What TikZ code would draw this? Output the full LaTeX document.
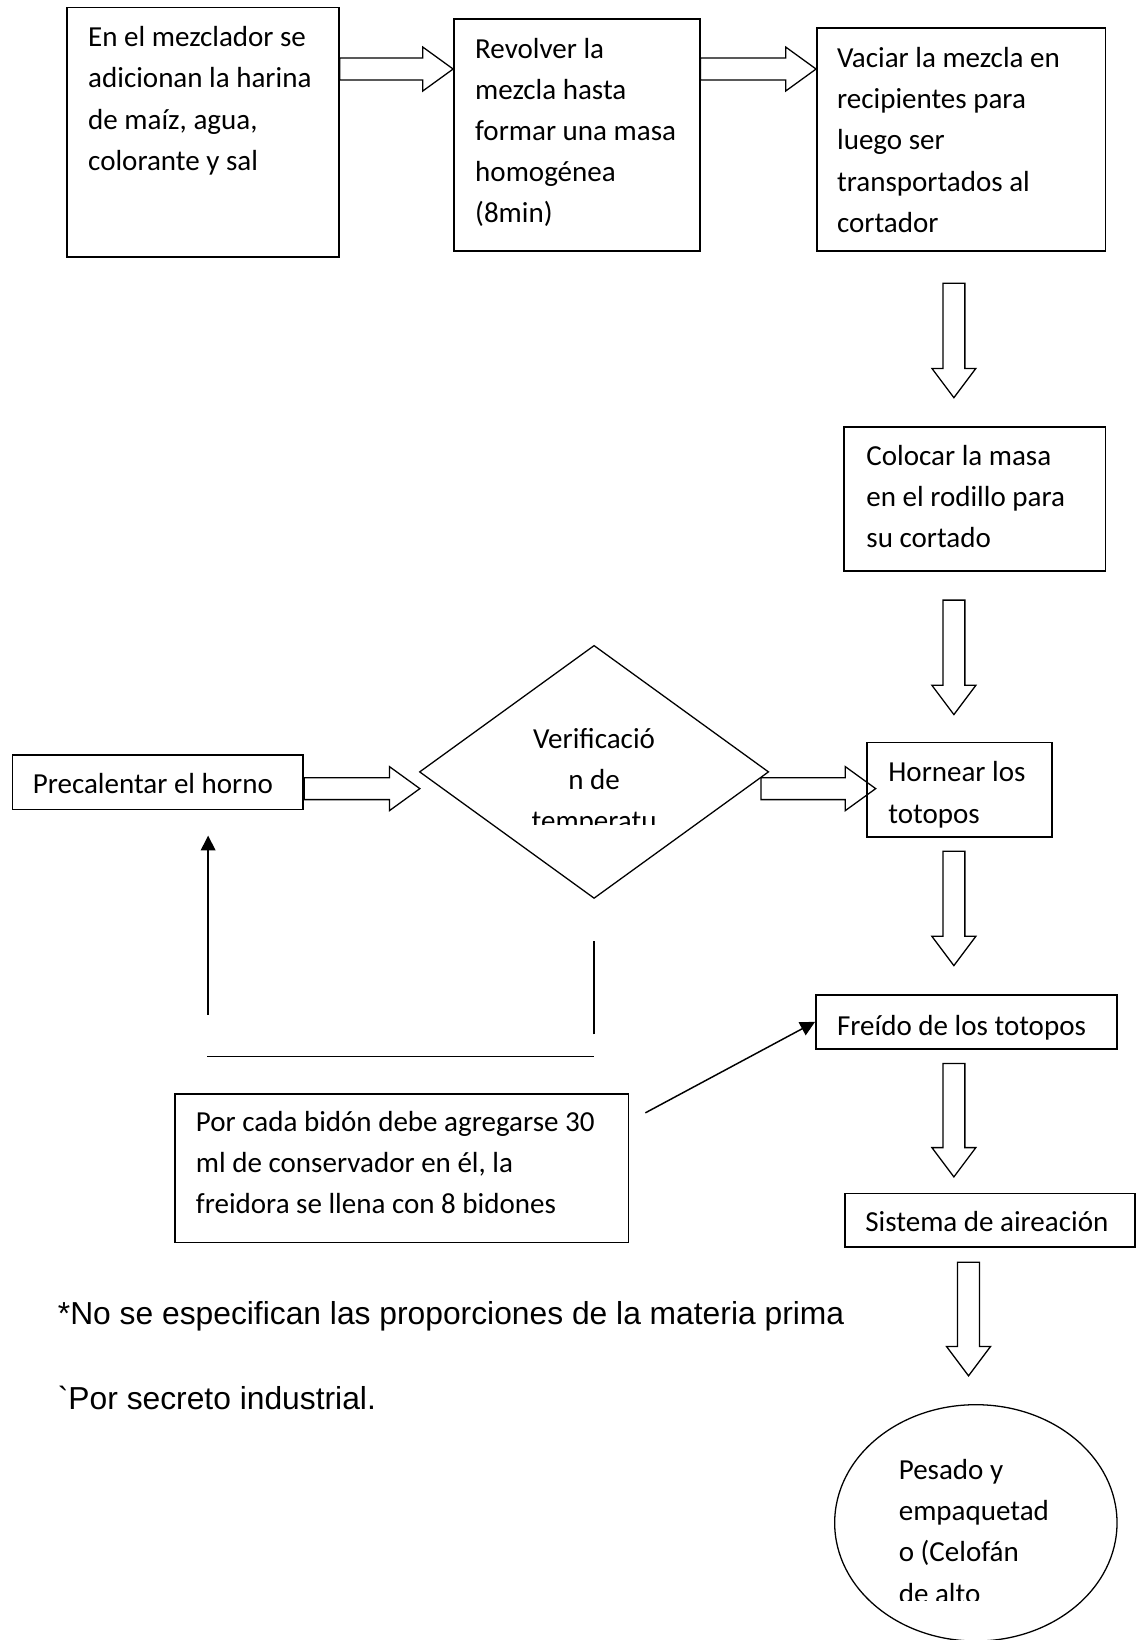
\documentclass[tikz,border=0pt]{standalone}
\usepackage{fontspec}
\setmainfont{Carlito}
\newfontfamily\notafont[Ligatures=TeXOff]{Liberation Sans}
\usetikzlibrary{shapes.geometric,calc,arrows.meta}

\tikzset{
  caja/.style={draw, rectangle, line width=0.9pt, inner sep=0pt},
  texto/.style={anchor=north west, inner sep=0pt, align=left, font=\fontsize{15.8}{22.4}\selectfont},
  nota/.style={anchor=west, inner sep=0pt, font=\notafont\fontsize{17.3}{20}\selectfont},
  linea/.style={line width=0.7pt},
  flecha/.style={line width=0.8pt, -{Triangle[length=0.28cm,width=0.28cm]}}
}

% flechas de bloque (de #1 a la punta #2)
\newcommand{\flechader}[2]{%
  \draw[linea] ($(#1)+(0,-10.5)$) -- ($(#2)+(-29,-10.5)$) -- ($(#2)+(-29,-21)$) -- (#2)
    -- ($(#2)+(-29,21)$) -- ($(#2)+(-29,10.5)$) -- ($(#1)+(0,10.5)$) -- cycle;}
\newcommand{\flechaabajo}[2]{%
  \draw[linea] ($(#1)+(-10.5,0)$) -- ($(#2)+(-10.5,-28)$) -- ($(#2)+(-21,-28)$) -- (#2)
    -- ($(#2)+(21,-28)$) -- ($(#2)+(10.5,-28)$) -- ($(#1)+(10.5,0)$) -- cycle;}

\begin{document}
\begin{tikzpicture}[x=0.02cm,y=-0.02cm]
\useasboundingbox (0,0) rectangle (1086,1568);

            % Cajas
            \node[caja, minimum width=5.2cm, minimum height=4.78cm] (mezcla) at (194,126.5) {};
            \node[caja, minimum width=4.7cm, minimum height=4.44cm] (revolver) at (551.5,129) {};
            \node[caja, minimum width=5.52cm, minimum height=4.26cm] (vaciar) at (919,133.5) {};
            \node[caja, minimum width=5cm, minimum height=2.76cm] (rodillo) at (932,477) {};
            \node[caja, minimum width=3.54cm, minimum height=1.8cm] (hornear) at (917.5,755) {};
            \node[caja, minimum width=5.56cm, minimum height=1.04cm] (precal) at (151,748) {};
            \node[draw, diamond, line width=0.7pt, inner sep=0pt, minimum width=6.68cm, minimum height=4.84cm] (verif) at (568,738) {};
            \node[caja, minimum width=5.76cm, minimum height=1.04cm] (freido) at (924,977) {};
            \node[caja, minimum width=5.54cm, minimum height=1.02cm] (aire) at (946.5,1166.5) {};
            \node[caja, minimum width=8.68cm, minimum height=2.84cm] (bidon) at (384,1117) {};
            \node[draw, ellipse, line width=0.7pt, inner sep=0pt, minimum width=5.4cm, minimum height=4.52cm] (pesado) at (933,1456) {};

            % Textos
            \node[texto] (tmezcla) at (84,25) {En el mezclador se\\adicionan la harina\\de maíz, agua,\\colorante y sal};
            \node[texto] (trevolver) at (454,36) {Revolver la\\mezcla hasta\\formar una masa\\homogénea\\(8min)};
            \node[texto] (tvaciar) at (800,45) {Vaciar la mezcla en\\recipientes para\\luego ser\\transportados al\\cortador};
            \node[texto] (trodillo) at (828,425) {Colocar la masa\\en el rodillo para\\su cortado};
            \node[texto] (thornear) at (849,728) {Hornear los\\totopos};
            \node[texto] (tprecal) at (31,739) {Precalentar el horno};
            \node[texto] (tfreido) at (800,970) {Freído de los totopos};
            \node[texto] (taire) at (827,1158) {Sistema de aireación};
            \node[texto] (tbidon) at (187,1062) {Por cada bidón debe agregarse 30\\ml de conservador en él, la\\freidora se llena con 8 bidones};
            \begin{scope}
              \clip (470,680) rectangle (670,788);
              \node[texto, anchor=north, align=center] (tverif) at (568,696) {Verificació\\n de\\temperatu};
            \end{scope}
            \begin{scope}
              \clip (840,1380) rectangle (1040,1530);
              \node[texto] (tpesado) at (859,1395) {Pesado y\\empaquetad\\o (Celofán\\de alto};
            \end{scope}

            % Notas
            \node[nota] (nota1) at (55,1258) {*No se especifican las proporciones de la materia prima};
            \node[nota] (nota2) at (55,1337) {`Por secreto industrial.};

            % Flechas de bloque
            \coordinate (h1a) at (mezcla.east |- 0,66);
            \coordinate (h1b) at (revolver.west |- 0,66);
            \coordinate (h2a) at (revolver.east |- 0,66);
            \coordinate (h2b) at (vaciar.west |- 0,66);
            \coordinate (h3a) at ($(precal.east)+(0,6)$);
            \coordinate (h3b) at ($(verif.west)+(1,16)$);
            \coordinate (h4a) at ($(verif.east)+(-8,16)$);
            \coordinate (h4b) at ($(hornear.west)+(9,-1)$);
            \flechader{h1a}{h1b}
            \flechader{h2a}{h2b}
            \flechader{h3a}{h3b}
            \flechader{h4a}{h4b}

            \coordinate (v1a) at ($(vaciar.south)+(-7,30)$);
            \coordinate (v1b) at ($(rodillo.north)+(-20,-27)$);
            \coordinate (v2a) at ($(rodillo.south)+(-20,27)$);
            \coordinate (v2b) at ($(hornear.north)+(-5.5,-26)$);
            \coordinate (v3a) at ($(hornear.south)+(-5.5,13)$);
            \coordinate (v3b) at ($(freido.north)+(-12,-27)$);
            \coordinate (v4a) at ($(freido.south)+(-12,13)$);
            \coordinate (v4b) at ($(aire.north)+(-34.5,-15)$);
            \coordinate (v5a) at ($(aire.south)+(-20.5,14)$);
            \coordinate (v5b) at ($(pesado.north)+(-7,-27)$);
            \flechaabajo{v1a}{v1b}
            \flechaabajo{v2a}{v2b}
            \flechaabajo{v3a}{v3b}
            \flechaabajo{v4a}{v4b}
            \flechaabajo{v5a}{v5b}

            % Lazo del horno
            \coordinate (lazo0) at (199,799);
            \coordinate (lazo1) at (199,970);
            \coordinate (lazo2) at (198,1010);
            \coordinate (lazo3) at (568,1010);
            \coordinate (lazo4) at (568,989);
            \coordinate (lazo5) at (568,900);
            \draw[flecha] (lazo1) -- (lazo0);
            \draw[linea] (lazo2) -- (lazo3);
            \draw[linea] (lazo4) -- (lazo5);

            % Conservador a la freidora
            \coordinate (nb) at (617,1064);
            \draw[flecha] (nb) -- (freido.west);

\end{tikzpicture}
\end{document}
